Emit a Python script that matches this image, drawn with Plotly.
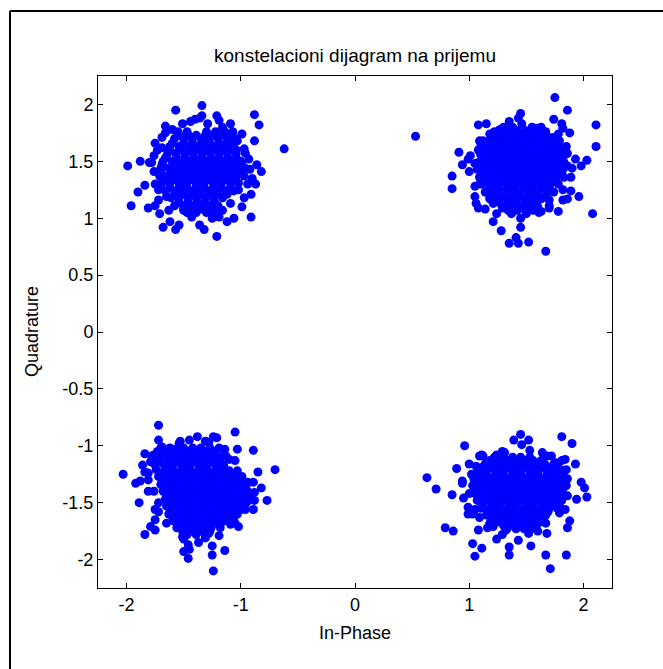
import plotly.graph_objects as go

# ---------------- data (In-Phase, Quadrature) ----------------
# scattered / edge points of each cluster
tl_pts = [(-1.57,1.95),(-1.34,1.99),(-0.88,1.91),(-0.84,1.82),(-0.62,1.61),(-1.21,1.90),(-1.19,1.86),
          (-1.40,1.87),(-1.36,1.88),(-1.34,1.90),(-1.51,1.83),(-1.66,1.81),(-1.29,1.83),(-1.09,1.83),
          (-1.07,1.76),(-0.99,1.74),(-0.88,1.68),(-1.69,1.71),(-1.75,1.66),(-1.69,1.62),(-1.76,1.55),
          (-1.88,1.50),(-1.99,1.46),(-1.78,1.49),(-1.76,1.41),(-1.84,1.29),(-1.90,1.23),(-1.96,1.11),
          (-1.81,1.09),(-1.75,1.11),(-1.71,1.04),(-1.68,0.92),(-1.62,0.97),(-1.57,0.90),(-1.54,0.94),
          (-1.50,1.07),(-1.43,1.01),(-1.36,0.94),(-1.32,0.90),(-1.21,0.84),(-1.25,1.00),(-1.12,0.97),
          (-1.06,1.00),(-0.91,1.01),(-0.97,1.18),(-0.91,1.21),(-0.87,1.30),(-0.82,1.41),(-0.86,1.47),
          (-0.92,1.43),(-0.97,1.61),(-1.04,1.60),(-0.90,1.35),(-0.93,1.52),(-1.09,1.13),(-1.02,1.25),
          (-1.16,1.07),(-1.65,1.19),(-1.72,1.25),(-1.67,1.35),
          (-1.80,1.49),(-1.73,1.60),(-1.66,1.75),(-1.60,1.78),(-1.44,1.85),(-1.16,1.80),(-1.03,1.68),
          (-0.96,1.57),(-0.94,1.30),(-0.99,1.10),(-1.19,1.01),(-1.45,1.06),(-1.63,1.07),(-1.72,1.16),
          (-1.75,1.30)]
tr_pts = [(0.53,1.72),(1.75,2.06),(1.86,1.95),(2.11,1.82),(2.11,1.63),(1.45,1.92),(1.43,1.88),(1.46,1.83),
          (1.35,1.85),(1.08,1.82),(1.15,1.83),(1.74,1.87),(1.81,1.83),(1.82,1.79),(1.88,1.75),(1.78,1.74),
          (1.85,1.63),(0.91,1.58),(0.94,1.47),(0.99,1.52),(1.01,1.55),(0.85,1.37),(0.85,1.26),(1.00,1.41),
          (1.05,1.28),(1.05,1.19),(1.06,1.13),(1.08,1.09),(1.14,1.08),(1.21,0.97),(1.28,0.89),(1.35,0.78),
          (1.41,0.83),(1.43,0.78),(1.52,0.79),(1.67,0.71),(1.45,1.00),(1.45,0.92),(1.61,1.05),(1.63,1.06),
          (1.78,1.06),(2.08,1.04),(1.96,1.19),(1.89,1.24),(1.86,1.17),(1.82,1.16),(2.03,1.51),(1.98,1.46),
          (1.93,1.52),(1.90,1.44),(1.10,1.66),(1.12,1.68),(1.08,1.60),(1.22,1.76),(1.27,1.78),(1.21,1.13),
          (1.24,1.04),(1.29,1.09),(1.70,1.09),(1.70,1.11),(1.59,1.13),
          (1.09,1.68),(1.18,1.74),(1.29,1.77),(1.59,1.79),(1.67,1.76),(1.79,1.68),(1.86,1.57),
          (1.89,1.36),(1.82,1.25),(1.70,1.16),(1.53,1.11),(1.35,1.10),(1.18,1.19),(1.09,1.30),
          (1.05,1.48)]
bl_pts = [(-1.72,-0.82),(-1.72,-0.95),(-1.05,-0.88),(-0.89,-1.04),(-0.70,-1.21),(-0.85,-1.23),(-2.03,-1.25),
          (-1.92,-1.33),(-1.88,-1.31),(-1.89,-1.50),(-1.76,-1.40),(-1.84,-1.78),(-1.79,-1.71),(-1.75,-1.74),
          (-1.75,-1.65),(-1.65,-1.68),(-1.51,-1.80),(-1.50,-1.82),(-1.46,-1.87),(-1.45,-1.91),(-1.50,-1.93),
          (-1.46,-1.99),(-1.24,-2.10),(-1.25,-1.96),(-1.25,-1.88),(-1.14,-1.92),(-1.19,-1.79),(-1.02,-1.71),
          (-1.05,-1.68),(-1.09,-1.69),(-0.89,-1.56),(-0.77,-1.48),(-0.88,-1.48),(-0.88,-1.41),(-0.82,-1.37),
          (-0.94,-1.32),(-0.89,-1.32),(-1.03,-1.22),(-1.10,-1.22),(-1.10,-1.12),(-1.05,-1.13),(-1.03,-1.03),
          (-1.14,-1.03),(-1.21,-0.93),(-1.24,-0.92),(-1.28,-0.97),(-1.38,-0.92),(-1.45,-0.95),(-1.53,-0.96),
          (-1.57,-1.03),(-1.67,-1.03),(-1.84,-1.07),(-1.86,-1.17),(-1.84,-1.23),(-1.81,-1.30),(-1.72,-1.58),
          (-1.75,-1.56),(-1.37,-1.85),(-1.31,-1.81),
          (-1.78,-1.09),(-1.69,-1.01),(-1.54,-0.98),(-1.31,-0.96),(-1.13,-1.09),(-0.99,-1.27),(-0.93,-1.44),
          (-0.96,-1.56),(-1.10,-1.65),(-1.28,-1.77),(-1.43,-1.74),(-1.60,-1.62),(-1.72,-1.50),(-1.81,-1.40),
          (-1.81,-1.24)]
br_pts = [(1.45,-0.90),(1.39,-0.95),(1.52,-0.95),(1.46,-0.99),(1.53,-1.04),(1.81,-0.92),(1.90,-0.98),
          (0.96,-1.00),(0.63,-1.28),(0.71,-1.38),(0.79,-1.72),(0.86,-1.75),(0.85,-1.43),(0.89,-1.20),
          (0.94,-1.31),(0.95,-1.46),(1.00,-1.16),(1.02,-1.25),(0.99,-1.54),(0.99,-1.60),(1.03,-1.60),
          (1.09,-1.63),(1.08,-1.74),(1.03,-1.86),(1.11,-1.90),(1.05,-1.97),(1.35,-1.96),(1.35,-1.89),
          (1.54,-1.88),(1.67,-1.96),(1.71,-2.08),(1.85,-1.96),(1.86,-1.72),(1.88,-1.66),(1.84,-1.56),
          (1.94,-1.47),(2.03,-1.45),(2.01,-1.37),(1.98,-1.32),(1.93,-1.16),(1.84,-1.12),(1.81,-1.13),
          (1.85,-1.21),(1.68,-1.09),(1.72,-1.09),(1.60,-1.15),(1.52,-1.77),(1.60,-1.75),(1.68,-1.77),
          (1.43,-1.83),(1.24,-1.82),(1.29,-1.78),(1.16,-1.72),(1.21,-1.71),(1.09,-1.09),(1.11,-1.08),
          (1.24,-1.08),(1.31,-1.06),(1.06,-1.18),
          (1.12,-1.09),(1.29,-1.05),(1.64,-1.06),(1.76,-1.15),(1.85,-1.30),(1.86,-1.44),(1.79,-1.59),
          (1.67,-1.68),(1.53,-1.74),(1.32,-1.74),(1.18,-1.68),(1.05,-1.56),(1.00,-1.42),(1.05,-1.27),
          (0.94,-1.33)]

# dense cores, read row by row (Quadrature value of the row, In-Phase values along it)
tl_core_q = [1.76, 1.73, 1.70, 1.66, 1.63, 1.60, 1.57, 1.53, 1.50, 1.47, 1.44, 1.40, 1.37, 1.34,
             1.31, 1.27, 1.24, 1.21, 1.18, 1.14, 1.11, 1.08, 1.05]
tl_core_i = [[-1.55,-1.47,-1.30,-1.22,-1.14],
             [-1.54,-1.46,-1.39,-1.31,-1.24,-1.16,-1.09],
             [-1.58,-1.50,-1.43,-1.35,-1.28,-1.20,-1.12,-1.05],
             [-1.60,-1.50,-1.42,-1.34,-1.27,-1.19,-1.12,-1.06],
             [-1.62,-1.54,-1.46,-1.38,-1.31,-1.23,-1.16,-1.09],
             [-1.63,-1.53,-1.45,-1.38,-1.30,-1.23,-1.15,-1.08],
             [-1.64,-1.57,-1.49,-1.42,-1.34,-1.27,-1.19,-1.12,-1.04],
             [-1.66,-1.56,-1.49,-1.41,-1.34,-1.26,-1.19,-1.11,-1.04],
             [-1.68,-1.60,-1.53,-1.45,-1.38,-1.30,-1.23,-1.15,-1.08,-1.00],
             [-1.69,-1.59,-1.51,-1.44,-1.36,-1.29,-1.21,-1.14,-1.06,-0.99],
             [-1.70,-1.63,-1.55,-1.48,-1.40,-1.33,-1.25,-1.18,-1.10,-1.03,-0.96],
             [-1.70,-1.59,-1.52,-1.44,-1.37,-1.29,-1.22,-1.14,-1.07,-1.00],
             [-1.71,-1.64,-1.56,-1.49,-1.41,-1.34,-1.26,-1.19,-1.11,-1.04,-0.97],
             [-1.66,-1.58,-1.50,-1.43,-1.35,-1.28,-1.20,-1.13,-1.05],
             [-1.69,-1.62,-1.54,-1.47,-1.39,-1.32,-1.24,-1.17,-1.09,-1.02],
             [-1.62,-1.54,-1.47,-1.39,-1.32,-1.24,-1.17,-1.09],
             [-1.66,-1.58,-1.51,-1.43,-1.36,-1.28,-1.21,-1.13,-1.06],
             [-1.58,-1.50,-1.42,-1.35,-1.27,-1.20,-1.12],
             [-1.61,-1.54,-1.46,-1.39,-1.31,-1.24,-1.16],
             [-1.54,-1.46,-1.38,-1.31,-1.23],
             [-1.58,-1.50,-1.43,-1.35,-1.27,-1.20],
             [-1.50,-1.42,-1.34,-1.26],
             [-1.47,-1.39,-1.30,-1.23]]
tr_core_q = [1.80, 1.77, 1.74, 1.71, 1.68, 1.65, 1.62, 1.59, 1.56, 1.52, 1.49, 1.46, 1.43, 1.40,
             1.36, 1.33, 1.30, 1.27, 1.23, 1.20, 1.17, 1.14, 1.10, 1.07, 1.04]
tr_core_i = [[1.30,1.38,1.55,1.63],
             [1.26,1.34,1.42,1.49,1.57,1.64],
             [1.22,1.30,1.37,1.45,1.52,1.60,1.67],
             [1.21,1.28,1.36,1.43,1.51,1.58,1.66,1.73],
             [1.17,1.25,1.32,1.40,1.47,1.55,1.62,1.70,1.76],
             [1.16,1.24,1.31,1.39,1.46,1.54,1.61,1.69,1.76],
             [1.13,1.20,1.28,1.35,1.43,1.50,1.58,1.65,1.72,1.79],
             [1.13,1.21,1.28,1.36,1.43,1.51,1.58,1.66,1.73,1.80],
             [1.10,1.17,1.25,1.32,1.40,1.47,1.55,1.62,1.70,1.77,1.84],
             [1.12,1.20,1.27,1.35,1.42,1.50,1.57,1.65,1.72,1.80],
             [1.08,1.16,1.23,1.31,1.38,1.46,1.53,1.61,1.68,1.76,1.83],
             [1.11,1.19,1.26,1.34,1.41,1.49,1.56,1.64,1.71,1.79,1.86],
             [1.07,1.15,1.22,1.30,1.37,1.45,1.52,1.60,1.67,1.75,1.82],
             [1.12,1.20,1.27,1.35,1.42,1.50,1.57,1.65,1.72,1.80],
             [1.09,1.16,1.24,1.31,1.39,1.46,1.54,1.61,1.69,1.76,1.83],
             [1.15,1.22,1.30,1.37,1.45,1.52,1.60,1.67,1.75],
             [1.11,1.19,1.26,1.34,1.41,1.49,1.56,1.64,1.71,1.78],
             [1.18,1.25,1.33,1.40,1.48,1.55,1.63,1.70],
             [1.14,1.22,1.29,1.37,1.44,1.52,1.59,1.67,1.74],
             [1.22,1.30,1.37,1.45,1.52,1.60,1.67],
             [1.18,1.26,1.33,1.41,1.48,1.56,1.63],
             [1.26,1.34,1.41,1.49,1.57],
             [1.30,1.38,1.45,1.53,1.60],
             [1.34,1.42,1.49,1.56],
             [1.37,1.50]]
bl_core_q = [-1.02, -1.05, -1.08, -1.11, -1.14, -1.17, -1.21, -1.24, -1.27, -1.30, -1.34, -1.37,
             -1.40, -1.43, -1.47, -1.50, -1.53, -1.56, -1.60, -1.63, -1.66, -1.69, -1.72, -1.75, -1.78]
bl_core_i = [[-1.70,-1.62,-1.50,-1.42,-1.35,-1.27,-1.19],
             [-1.73,-1.66,-1.56,-1.46,-1.39,-1.31,-1.23],
             [-1.76,-1.68,-1.60,-1.52,-1.45,-1.37,-1.30,-1.22,-1.15],
             [-1.75,-1.64,-1.56,-1.49,-1.41,-1.34,-1.26,-1.19],
             [-1.79,-1.71,-1.63,-1.56,-1.48,-1.41,-1.33,-1.26,-1.18],
             [-1.75,-1.67,-1.60,-1.52,-1.45,-1.37,-1.30,-1.22,-1.15],
             [-1.74,-1.66,-1.59,-1.51,-1.44,-1.36,-1.29,-1.21,-1.14],
             [-1.70,-1.62,-1.55,-1.47,-1.40,-1.32,-1.25,-1.17,-1.09],
             [-1.72,-1.64,-1.57,-1.49,-1.42,-1.34,-1.27,-1.19,-1.12,-1.04],
             [-1.68,-1.60,-1.53,-1.45,-1.38,-1.30,-1.23,-1.15,-1.07,-1.00],
             [-1.70,-1.62,-1.55,-1.47,-1.40,-1.32,-1.25,-1.17,-1.10,-1.02,-0.95],
             [-1.66,-1.58,-1.51,-1.43,-1.36,-1.28,-1.21,-1.13,-1.06,-0.98],
             [-1.68,-1.61,-1.53,-1.46,-1.38,-1.31,-1.23,-1.16,-1.08,-1.01,-0.94],
             [-1.65,-1.57,-1.50,-1.42,-1.35,-1.27,-1.20,-1.12,-1.05,-0.97],
             [-1.66,-1.59,-1.51,-1.44,-1.36,-1.29,-1.21,-1.14,-1.06,-0.99,-0.92],
             [-1.62,-1.55,-1.47,-1.40,-1.32,-1.25,-1.17,-1.10,-1.02,-0.95],
             [-1.65,-1.57,-1.50,-1.42,-1.35,-1.27,-1.20,-1.12,-1.05,-0.97],
             [-1.61,-1.53,-1.46,-1.38,-1.31,-1.23,-1.16,-1.08,-1.00],
             [-1.63,-1.55,-1.48,-1.40,-1.33,-1.25,-1.18,-1.10,-1.03],
             [-1.59,-1.51,-1.44,-1.36,-1.29,-1.21,-1.14,-1.06],
             [-1.59,-1.52,-1.44,-1.37,-1.29,-1.22,-1.14],
             [-1.55,-1.48,-1.40,-1.33,-1.25,-1.18],
             [-1.56,-1.48,-1.41,-1.33,-1.26,-1.18],
             [-1.51,-1.43,-1.35,-1.27],
             [-1.47,-1.39,-1.31]]
br_core_q = [-1.10, -1.13, -1.16, -1.19, -1.22, -1.25, -1.29, -1.32, -1.35, -1.38, -1.42, -1.45,
             -1.48, -1.51, -1.55, -1.58, -1.61, -1.64, -1.67, -1.70, -1.73]
br_core_i = [[1.22,1.30,1.38,1.45,1.53],
             [1.18,1.26,1.34,1.41,1.49,1.56,1.63],
             [1.14,1.21,1.29,1.36,1.44,1.51,1.59,1.66,1.74],
             [1.11,1.18,1.26,1.33,1.41,1.48,1.56,1.63,1.71,1.78],
             [1.08,1.15,1.23,1.30,1.38,1.45,1.53,1.60,1.68,1.75,1.82],
             [1.08,1.15,1.23,1.30,1.38,1.45,1.53,1.60,1.68,1.75,1.82],
             [1.04,1.12,1.19,1.27,1.34,1.42,1.49,1.57,1.64,1.72,1.79,1.86],
             [1.07,1.14,1.22,1.29,1.37,1.44,1.52,1.59,1.67,1.74,1.82],
             [1.03,1.10,1.18,1.25,1.33,1.40,1.48,1.55,1.63,1.70,1.78,1.85],
             [1.08,1.15,1.23,1.30,1.38,1.45,1.53,1.60,1.68,1.75,1.82],
             [1.05,1.12,1.20,1.27,1.35,1.42,1.50,1.57,1.65,1.72,1.80],
             [1.10,1.17,1.25,1.32,1.40,1.47,1.55,1.62,1.70,1.77],
             [1.07,1.14,1.22,1.29,1.37,1.44,1.52,1.59,1.67,1.74,1.81],
             [1.12,1.20,1.27,1.35,1.42,1.50,1.57,1.65,1.72,1.79],
             [1.10,1.18,1.25,1.33,1.40,1.48,1.55,1.63,1.70,1.77],
             [1.16,1.24,1.31,1.39,1.46,1.54,1.61,1.69],
             [1.15,1.22,1.30,1.37,1.45,1.52,1.60,1.67],
             [1.20,1.28,1.35,1.43,1.50,1.58,1.64],
             [1.24,1.32,1.39,1.47,1.54,1.62],
             [1.30,1.37,1.45,1.52,1.59],
             [1.33,1.41,1.48]]

x_ticks = [-2, -1, 0, 1, 2]
y_ticks = [-2, -1.5, -1, -0.5, 0, 0.5, 1, 1.5, 2]
y_tick_text = ["-2", "-1.5", "-1", "-0.5", "0", "0.5", "1", "1.5", "2"]

# ---------------- assemble ----------------
I_vals, Q_vals = [], []
for pts in (tl_pts, tr_pts, bl_pts, br_pts):
    for i, q in pts:
        I_vals.append(i)
        Q_vals.append(q)
for qs, rows in ((tl_core_q, tl_core_i), (tr_core_q, tr_core_i),
                 (bl_core_q, bl_core_i), (br_core_q, br_core_i)):
    for q, row in zip(qs, rows):
        for i in row:
            I_vals.append(i)
            Q_vals.append(q)

FONT = "Liberation Sans, Arial, sans-serif"

fig = go.Figure()
fig.add_trace(go.Scatter(x=I_vals, y=Q_vals, mode="markers",
                         marker=dict(color="#0000FF", size=9, line=dict(width=0)),
                         showlegend=False, hoverinfo="skip"))

axis_common = dict(showline=True, linecolor="black", linewidth=1, mirror="ticks",
                   ticks="inside", ticklen=5, tickcolor="black", tickwidth=1,
                   showgrid=False, zeroline=False,
                   tickfont=dict(family=FONT, size=18, color="black"))

fig.update_layout(
    width=663, height=669,
    margin=dict(l=98, r=51, t=76, b=81),
    paper_bgcolor="white", plot_bgcolor="white",
    xaxis=dict(range=[-2.25, 2.25], tickvals=x_ticks, ticktext=[str(v) for v in x_ticks], **axis_common),
    yaxis=dict(range=[-2.25, 2.25], tickvals=y_ticks, ticktext=y_tick_text, **axis_common),
    font=dict(family=FONT, color="black"),
    annotations=[
        dict(text="konstelacioni dijagram na prijemu", xref="paper", yref="paper",
             x=0.5, y=1 + 21 / 512, xanchor="center", yanchor="middle", showarrow=False,
             font=dict(family=FONT, size=19, color="black")),
        dict(text="In-Phase", xref="paper", yref="paper",
             x=0.5, y=-45 / 512, xanchor="center", yanchor="middle", showarrow=False,
             font=dict(family=FONT, size=18, color="black")),
        dict(text="Quadrature", xref="paper", yref="paper",
             x=-66 / 514, y=0.5, xanchor="center", yanchor="middle", showarrow=False,
             textangle=-90, font=dict(family=FONT, size=18, color="black")),
    ],
    shapes=[
        dict(type="line", xref="paper", yref="paper", x0=-88 / 514, x1=-88 / 514,
             y0=(512 + 65) / 512, y1=-90 / 512, line=dict(color="black", width=2)),
        dict(type="line", xref="paper", yref="paper", x0=-88 / 514, x1=570 / 514,
             y0=(512 + 65) / 512, y1=(512 + 65) / 512, line=dict(color="black", width=2)),
    ],
)

fig.write_html("out.html")
